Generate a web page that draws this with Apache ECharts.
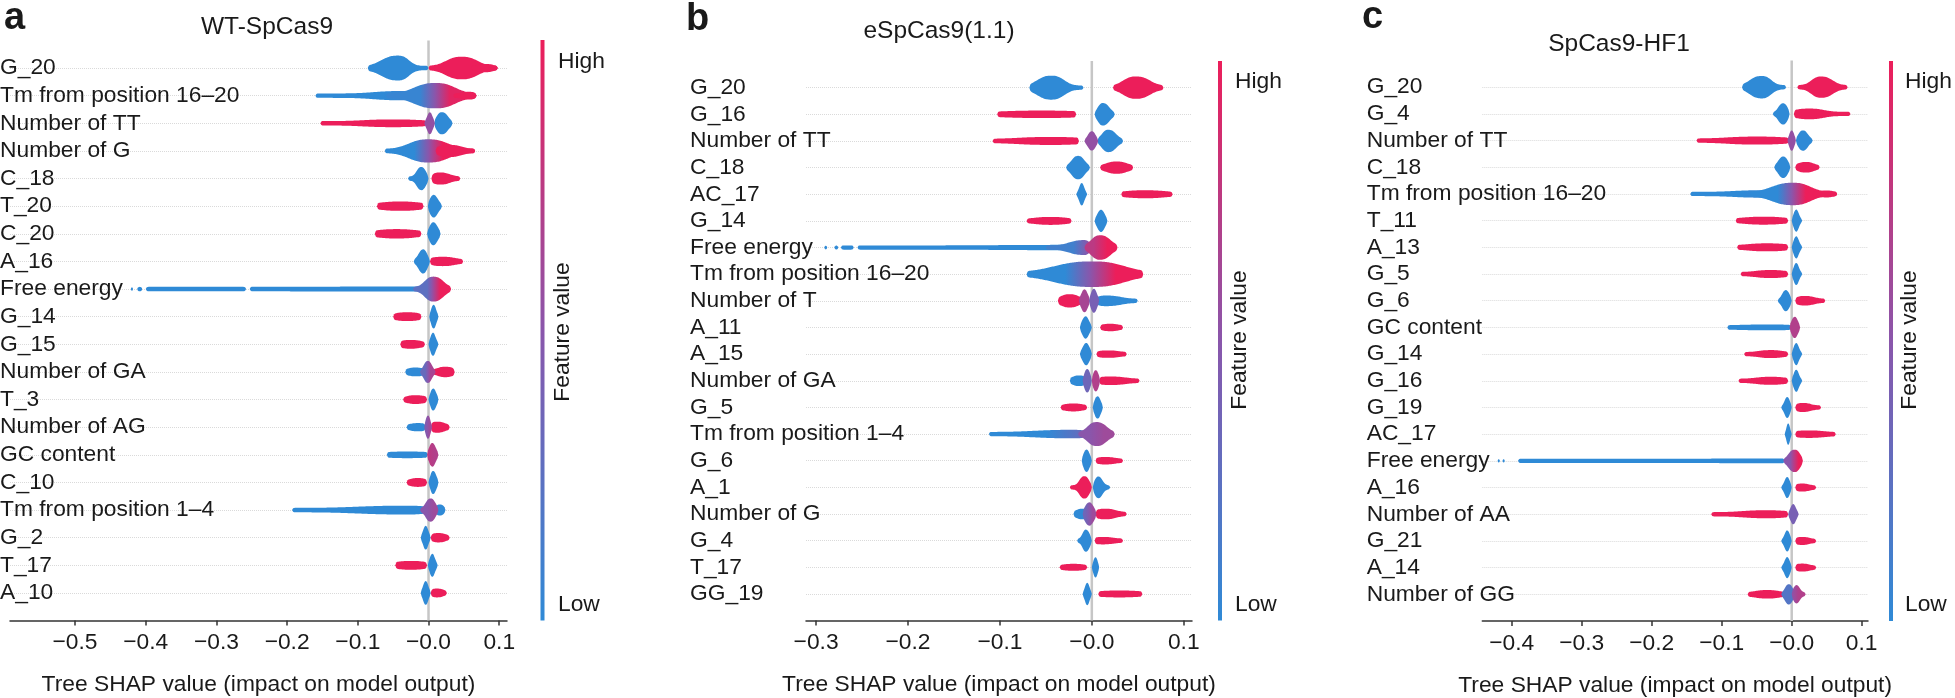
<!DOCTYPE html>
<html><head><meta charset="utf-8">
<script src="https://cdn.jsdelivr.net/npm/echarts@6/dist/echarts.min.js"></script>
<style>html,body{margin:0;padding:0;background:#fff}#c{width:1955px;height:698px}</style>
</head><body><div id="c"></div><script>
// ---------------- data ----------------
const featuresA = ['G_20','Tm from position 16\u201320','Number of TT','Number of G','C_18','T_20','C_20','A_16','Free energy','G_14','G_15','Number of GA','T_3','Number of AG','GC content','C_10','Tm from position 1\u20134','G_2','T_17','A_10'];
const featuresB = ['G_20','G_16','Number of TT','C_18','AC_17','G_14','Free energy','Tm from position 16\u201320','Number of T','A_11','A_15','Number of GA','G_5','Tm from position 1\u20134','G_6','A_1','Number of G','G_4','T_17','GG_19'];
const featuresC = ['G_20','G_4','Number of TT','C_18','Tm from position 16\u201320','T_11','A_13','G_5','G_6','GC content','G_14','G_16','G_19','AC_17','Free energy','A_16','Number of AA','G_21','A_14','Number of GG'];
const titles = ['WT-SpCas9','eSpCas9(1.1)','SpCas9-HF1'];
const xTicksA = [-0.5,-0.4,-0.3,-0.2,-0.1,0,0.1];
const xTicksB = [-0.3,-0.2,-0.1,0,0.1];
const xTicksC = [-0.4,-0.3,-0.2,-0.1,0,0.1];
const xRangeA = [-0.592, 0.111];
const xRangeB = [-0.311, 0.109];
const xRangeC = [-0.442, 0.109];
// SHAP value clusters per feature row:
// [start, end, peak, left spread, right spread, density, feature value at left, feature value at right]
const blobsA = [
 [[-0.086,0.0,-0.043,0.017,0.011,0.45,0,0],[0.0,0.098,0.047,0.016,0.016,0.41,1,1],[0.06,0.098,0.082,0.008,0.006,0.15,1,1]],
 [[-0.160,-0.01,-0.035,0.03,0.02,0.17,0,0.1],[-0.06,0.068,0.010,0.022,0.02,0.46,0.05,0.95],[0.035,0.068,0.058,0.008,0.005,0.14,1,1]],
 [[-0.153,-0.003,-0.05,0.03,0.03,0.14,1,1],[0.008,0.034,0.019,0.006,0.006,0.40,0,0],[-0.006,0.009,0.002,0.003,0.003,0.40,0.55,0.55]],
 [[-0.062,0.066,0.0,0.02,0.02,0.42,0,1],[0.01,0.066,0.03,0.012,0.012,0.22,1,1]],
 [[-0.029,0.0,-0.010,0.005,0.005,0.42,0,0],[0.004,0.045,0.016,0.008,0.01,0.22,1,1]],
 [[-0.073,-0.007,-0.04,0.02,0.02,0.17,1,1],[-0.001,0.019,0.006,0.004,0.005,0.42,0,0]],
 [[-0.076,-0.010,-0.045,0.02,0.02,0.17,1,1],[-0.002,0.017,0.006,0.004,0.005,0.42,0,0]],
 [[-0.021,0.002,-0.007,0.005,0.004,0.44,0,0],[0.002,0.049,0.02,0.012,0.012,0.17,1,1]],
 [[-0.421,-0.418,-0.42,0.01,0.01,0.07,0,0],[-0.412,-0.405,-0.41,0.01,0.01,0.07,0,0],[-0.400,-0.258,-0.33,0.1,0.1,0.08,0,0],[-0.253,-0.01,-0.03,0.1,0.02,0.09,0,0],[-0.022,0.032,0.007,0.009,0.01,0.45,0.25,1]],
 [[-0.050,-0.010,-0.03,0.012,0.012,0.16,1,1],[0.001,0.014,0.007,0.003,0.003,0.43,0,0]],
 [[-0.040,-0.005,-0.025,0.01,0.01,0.16,1,1],[0.0,0.014,0.006,0.003,0.003,0.42,0,0]],
 [[-0.033,-0.004,-0.018,0.008,0.008,0.16,0,0],[0.005,0.037,0.024,0.008,0.008,0.19,1,1],[-0.012,0.01,-0.001,0.004,0.004,0.40,0.3,0.65]],
 [[-0.036,-0.002,-0.019,0.008,0.01,0.16,1,1],[0.0,0.014,0.006,0.003,0.004,0.40,0,0]],
 [[-0.031,-0.004,-0.015,0.008,0.008,0.15,0,0],[0.003,0.030,0.012,0.007,0.008,0.2,1,1],[-0.006,0.005,-0.001,0.003,0.003,0.42,0.45,0.6]],
 [[-0.059,-0.001,-0.03,0.02,0.02,0.12,0,0],[-0.002,0.014,0.005,0.004,0.004,0.43,0.75,0.7]],
 [[-0.031,-0.002,-0.015,0.008,0.008,0.16,1,1],[0.0,0.014,0.006,0.003,0.004,0.42,0,0]],
 [[-0.193,-0.005,-0.03,0.05,0.02,0.16,0,0],[0.008,0.024,0.016,0.004,0.004,0.2,0,0],[-0.012,0.014,0.003,0.005,0.005,0.42,0.5,0.6]],
 [[-0.011,0.003,-0.004,0.003,0.003,0.43,0,0],[0.003,0.030,0.014,0.007,0.007,0.17,1,1]],
 [[-0.047,-0.002,-0.025,0.015,0.015,0.16,1,1],[-0.001,0.013,0.005,0.003,0.003,0.42,0,0]],
 [[-0.011,0.003,-0.004,0.003,0.003,0.43,0,0],[0.003,0.026,0.012,0.006,0.006,0.16,1,1]]
];
const blobsB = [
 [[-0.068,-0.009,-0.044,0.011,0.01,0.45,0,0],[0.023,0.078,0.048,0.01,0.011,0.42,1,1]],
 [[-0.103,-0.017,-0.055,0.03,0.03,0.14,1,1],[0.003,0.025,0.012,0.004,0.005,0.42,0,0]],
 [[-0.108,-0.014,-0.045,0.025,0.025,0.15,1,1],[0.006,0.034,0.018,0.005,0.006,0.42,0,0],[-0.008,0.007,0.0,0.003,0.003,0.36,0.55,0.55]],
 [[-0.028,-0.002,-0.015,0.005,0.005,0.44,0,0],[0.009,0.045,0.027,0.008,0.008,0.23,1,1]],
 [[-0.017,-0.005,-0.011,0.002,0.002,0.42,0,0],[0.032,0.088,0.058,0.015,0.015,0.15,1,1]],
 [[-0.071,-0.022,-0.045,0.012,0.012,0.15,1,1],[0.003,0.017,0.010,0.003,0.003,0.42,0,0]],
 [[-0.291,-0.288,-0.29,0.01,0.01,0.07,0,0],[-0.280,-0.276,-0.278,0.01,0.01,0.07,0,0],[-0.273,-0.259,-0.265,0.01,0.01,0.07,0,0],[-0.255,-0.008,-0.03,0.05,0.01,0.1,0,0],[-0.05,0.0,-0.008,0.012,0.004,0.28,0.1,0.5],[-0.008,0.028,0.009,0.007,0.008,0.46,0.75,1]],
 [[-0.071,0.056,0.001,0.03,0.025,0.48,0,1]],
 [[-0.037,-0.008,-0.024,0.007,0.007,0.25,1,1],[0.004,0.05,0.015,0.007,0.012,0.2,0,0],[-0.014,-0.002,-0.008,0.003,0.003,0.43,0.65,0.65],[-0.003,0.008,0.002,0.003,0.003,0.45,0.4,0.4]],
 [[-0.013,0.0,-0.007,0.003,0.003,0.42,0,0],[0.009,0.034,0.02,0.006,0.006,0.14,1,1]],
 [[-0.013,0.0,-0.006,0.003,0.003,0.42,0,0],[0.005,0.038,0.018,0.008,0.008,0.14,1,1]],
 [[-0.024,-0.006,-0.014,0.005,0.005,0.2,0,0],[0.008,0.052,0.02,0.01,0.012,0.16,1,1],[-0.01,0.0,-0.005,0.003,0.003,0.44,0.35,0.35],[0.0,0.009,0.004,0.003,0.003,0.4,0.7,0.7]],
 [[-0.034,-0.005,-0.02,0.007,0.007,0.15,1,1],[0.001,0.012,0.006,0.003,0.003,0.42,0,0]],
 [[-0.112,0.0,-0.02,0.03,0.01,0.16,0,0.3],[-0.015,0.025,0.005,0.007,0.008,0.45,0.5,0.6]],
 [[-0.011,0.0,-0.006,0.003,0.003,0.42,0,0],[0.004,0.034,0.015,0.007,0.007,0.14,1,1]],
 [[-0.024,0.0,-0.008,0.004,0.004,0.42,1,1],[0.001,0.02,0.006,0.003,0.004,0.42,0,0]],
 [[-0.020,0.0,-0.01,0.005,0.005,0.2,0,0],[0.004,0.038,0.015,0.008,0.008,0.2,1,1],[-0.01,0.005,-0.003,0.004,0.004,0.44,0.35,0.6]],
 [[-0.016,0.0,-0.006,0.003,0.003,0.42,0,0],[0.003,0.034,0.012,0.007,0.008,0.14,1,1]],
 [[-0.035,-0.005,-0.02,0.008,0.008,0.13,1,1],[0.0,0.008,0.004,0.002,0.002,0.38,0,0]],
 [[-0.01,0.0,-0.005,0.002,0.002,0.42,0,0],[0.007,0.055,0.03,0.015,0.015,0.13,1,1]]
];
const blobsC = [
 [[-0.071,-0.008,-0.043,0.012,0.01,0.42,0,0],[0.008,0.08,0.042,0.01,0.012,0.4,1,1]],
 [[-0.027,-0.003,-0.012,0.005,0.005,0.4,0,0],[0.003,0.084,0.025,0.015,0.015,0.2,1,1]],
 [[-0.136,-0.004,-0.05,0.03,0.03,0.15,1,1],[0.006,0.03,0.016,0.005,0.005,0.38,0,0],[-0.006,0.006,0.0,0.003,0.003,0.38,0.55,0.55]],
 [[-0.025,-0.002,-0.012,0.005,0.005,0.4,0,0],[0.005,0.04,0.02,0.008,0.008,0.2,1,1]],
 [[-0.145,-0.01,-0.04,0.03,0.02,0.14,0,0.1],[-0.06,0.065,0.002,0.022,0.018,0.42,0,1],[0.03,0.065,0.05,0.008,0.006,0.13,1,1]],
 [[-0.08,-0.005,-0.04,0.02,0.02,0.15,1,1],[0.0,0.015,0.006,0.003,0.003,0.42,0,0]],
 [[-0.078,-0.005,-0.035,0.02,0.02,0.15,1,1],[0.0,0.015,0.006,0.003,0.003,0.42,0,0]],
 [[-0.073,-0.005,-0.03,0.015,0.015,0.15,1,1],[0.0,0.015,0.006,0.003,0.003,0.42,0,0]],
 [[-0.02,0.0,-0.008,0.004,0.004,0.4,0,0],[0.005,0.048,0.018,0.008,0.01,0.18,1,1]],
 [[-0.092,-0.001,-0.03,0.03,0.02,0.11,0,0],[-0.003,0.012,0.004,0.004,0.004,0.4,0.7,0.7]],
 [[-0.068,-0.005,-0.03,0.012,0.012,0.15,1,1],[0.0,0.015,0.006,0.003,0.003,0.42,0,0]],
 [[-0.076,-0.005,-0.03,0.015,0.015,0.15,1,1],[0.0,0.015,0.006,0.003,0.003,0.42,0,0]],
 [[-0.015,0.0,-0.006,0.003,0.003,0.4,0,0],[0.005,0.042,0.016,0.007,0.008,0.17,1,1]],
 [[-0.01,0.0,-0.005,0.002,0.002,0.4,0,0],[0.005,0.063,0.025,0.015,0.015,0.14,1,1]],
 [[-0.420,-0.417,-0.418,0.01,0.01,0.07,0,0],[-0.413,-0.410,-0.411,0.01,0.01,0.07,0,0],[-0.391,-0.01,-0.03,0.05,0.02,0.09,0,0],[-0.012,0.016,0.004,0.006,0.006,0.42,0.5,1]],
 [[-0.015,0.0,-0.006,0.003,0.003,0.4,0,0],[0.005,0.035,0.015,0.007,0.007,0.15,1,1]],
 [[-0.115,-0.005,-0.035,0.025,0.02,0.15,1,1],[-0.005,0.01,0.002,0.003,0.003,0.38,0.4,0.4]],
 [[-0.015,0.0,-0.006,0.003,0.003,0.4,0,0],[0.005,0.035,0.015,0.007,0.007,0.15,1,1]],
 [[-0.015,0.0,-0.006,0.003,0.003,0.4,0,0],[0.005,0.035,0.015,0.007,0.007,0.15,1,1]],
 [[-0.063,-0.01,-0.035,0.012,0.012,0.16,1,1],[-0.015,0.005,-0.004,0.004,0.004,0.38,0.2,0.2],[0.0,0.02,0.006,0.004,0.004,0.35,0.55,0.7]]
];

// ---------------- styling / rendering ----------------
const FONT = "'Liberation Sans', Arial, Helvetica, sans-serif";
const TXT = '#1a1a1a';
const BLUE = [47,138,214], PURPLE = [138,86,171], RED = [236,30,90];
function colorAt(t){
  t = Math.max(0, Math.min(1, t));
  let a, b, s;
  if (t < 0.5) { a = BLUE; b = PURPLE; s = t / 0.5; } else { a = PURPLE; b = RED; s = (t - 0.5) / 0.5; }
  return 'rgb(' + a.map((v, i) => Math.round(v + (b[i] - v) * s)).join(',') + ')';
}
const HMIN = 0.08;
function renderBlob(params, api){
  const row = api.value(0), x0 = api.value(1), x1 = api.value(2), xp = api.value(3),
        wl = api.value(4) * 1.3, wr = api.value(5) * 1.3, h = api.value(6), cL = api.value(7), cR = api.value(8);
  const rowPx = Math.abs(api.size([0, 1])[1]);
  const a = api.coord([x0, row]), b = api.coord([x1, row]);
  const cy = a[1];
  const len = b[0] - a[0];
  const N = Math.max(12, Math.ceil(len / 1.0));
  const cap = Math.max(2.5, HMIN * rowPx);
  const top = [], bot = [];
  for (let i = 0; i <= N; i++) {
    const x = x0 + (x1 - x0) * i / N;
    const d = x - xp, w = d < 0 ? wl : wr;
    const g = w > 0 ? Math.exp(-0.5 * Math.pow(Math.abs(d / w), 2.6)) : 0;
    let hh = (HMIN + (Math.max(h, HMIN) - HMIN) * g) * rowPx;
    const px = api.coord([x, row])[0];
    const dist = Math.min(px - a[0], b[0] - px);
    const capLen = Math.max(cap, Math.min(hh * 0.6, len / 2));
    if (dist < capLen) { const q = 1 - dist / capLen; hh *= Math.sqrt(Math.max(0, 1 - q * q)); }
    top.push([px, cy - hh]); bot.push([px, cy + hh]);
  }
  let fill;
  if (Math.abs(cL - cR) < 1e-6) fill = colorAt(cL);
  else {
    const ga = api.coord([xp - wl / 1.3, row])[0], gb = api.coord([xp + wr / 1.3, row])[0];
    const stops = [];
    for (let k = 0; k <= 6; k++) stops.push({offset: k / 6, color: colorAt(cL + (cR - cL) * k / 6)});
    fill = new echarts.graphic.LinearGradient(ga, 0, gb, 0, stops, true);
  }
  return {type: 'polygon', shape: {points: top.concat(bot.reverse())}, style: {fill: fill}};
}
function fmtTick(v){
  if (Math.abs(v) < 1e-9) return '\u22120.0';
  return (v < 0 ? '\u2212' : '') + Math.abs(v).toFixed(1);
}

const panels = [
  {features: featuresA, blobs: blobsA, ticks: xTicksA, range: xRangeA, grid: {left: 10, top: 40.4, width: 497, height: 580.2}, labelMargin: 10},
  {features: featuresB, blobs: blobsB, ticks: xTicksB, range: xRangeB, grid: {left: 806, top: 61, width: 386, height: 559.6}, labelMargin: 116},
  {features: featuresC, blobs: blobsC, ticks: xTicksC, range: xRangeC, grid: {left: 1482.3, top: 60.5, width: 385.7, height: 560.5}, labelMargin: 115.6}
];

const grid = [], xAxis = [], yAxis = [], series = [];
panels.forEach((p, gi) => {
  grid.push(Object.assign({outerBoundsMode: 'none', containLabel: false}, p.grid));
  xAxis.push({
    gridIndex: gi, type: 'value', min: p.range[0], max: p.range[1], position: 'bottom',
    axisLine: {show: true, onZero: false, lineStyle: {color: '#333', width: 1.5}},
    axisTick: {show: true, length: 5, lineStyle: {color: '#333', width: 1.5}, customValues: p.ticks},
    axisLabel: {customValues: p.ticks, formatter: fmtTick, fontSize: 22.8, color: TXT, fontFamily: FONT, margin: 11},
    splitLine: {show: false},
    name: 'Tree SHAP value (impact on model output)', nameLocation: 'middle', nameGap: 53,
    nameTextStyle: {fontSize: 22.8, color: TXT, fontFamily: FONT}
  });
  yAxis.push({
    gridIndex: gi, type: 'value', inverse: true, min: -1, max: 20, interval: 1, position: 'left',
    axisLine: {show: false, onZero: false}, axisTick: {show: false},
    axisLabel: {
      formatter: v => { const k = Math.round(v); return (k >= 0 && k < p.features.length) ? p.features[k] : ''; },
      align: 'left', margin: p.labelMargin, fontSize: 22.8, color: TXT, fontFamily: FONT
    },
    splitLine: {show: true, showMinLine: false, showMaxLine: false, lineStyle: {type: 'dotted', color: '#dadada', width: 1}}
  });
  series.push({
    type: 'line', xAxisIndex: gi, yAxisIndex: gi, data: [[0, -1], [0, 20]],
    symbol: 'none', silent: true, z: 1, lineStyle: {color: '#c6c6c6', width: 2.5}
  });
  const data = [];
  p.blobs.forEach((row, ri) => row.forEach(bl => data.push([ri].concat(bl))));
  series.push({
    type: 'custom', xAxisIndex: gi, yAxisIndex: gi, data: data, renderItem: renderBlob,
    encode: {x: [1, 2], y: 0}, silent: true, clip: false, z: 2
  });
});

function colorBar(x, y0, y1){
  return {type: 'rect', shape: {x: x, y: y0, width: 4, height: y1 - y0}, silent: true,
    style: {fill: new echarts.graphic.LinearGradient(0, 0, 0, 1, [
      {offset: 0, color: colorAt(1)}, {offset: 0.5, color: colorAt(0.5)}, {offset: 1, color: colorAt(0)}])}};
}
function txt(x, y, s, size, opts){
  return Object.assign({type: 'text', x: x, y: y, silent: true,
    style: Object.assign({text: s, fill: TXT, font: size + 'px ' + FONT, textAlign: 'left', textVerticalAlign: 'middle'}, opts && opts.style)}, opts && opts.el);
}
const graphic = [
  txt(4, 19, 'a', 38, {style: {font: 'bold 38px ' + FONT}}),
  txt(686, 20, 'b', 38, {style: {font: 'bold 38px ' + FONT}}),
  txt(1362, 18, 'c', 38, {style: {font: 'bold 38px ' + FONT}}),
  txt(267, 27, titles[0], 24.5, {style: {textAlign: 'center'}}),
  txt(939, 31, titles[1], 24.5, {style: {textAlign: 'center'}}),
  txt(1619, 44, titles[2], 24.5, {style: {textAlign: 'center'}}),
  colorBar(540.5, 40, 620.5),
  txt(558, 62, 'High', 22.8), txt(558, 605, 'Low', 22.8),
  txt(563, 332, 'Feature value', 22.8, {style: {textAlign: 'center'}, el: {rotation: Math.PI / 2}}),
  colorBar(1218, 61, 620.6),
  txt(1235, 82, 'High', 22.8), txt(1235, 605, 'Low', 22.8),
  txt(1240, 340, 'Feature value', 22.8, {style: {textAlign: 'center'}, el: {rotation: Math.PI / 2}}),
  colorBar(1889, 61, 621),
  txt(1905, 82, 'High', 22.8), txt(1905, 605, 'Low', 22.8),
  txt(1910, 340, 'Feature value', 22.8, {style: {textAlign: 'center'}, el: {rotation: Math.PI / 2}})
];

const chart = echarts.init(document.getElementById('c'), null, {renderer: 'canvas'});
chart.setOption({animation: false, backgroundColor: '#fff', grid, xAxis, yAxis, series, graphic});
</script></body></html>
